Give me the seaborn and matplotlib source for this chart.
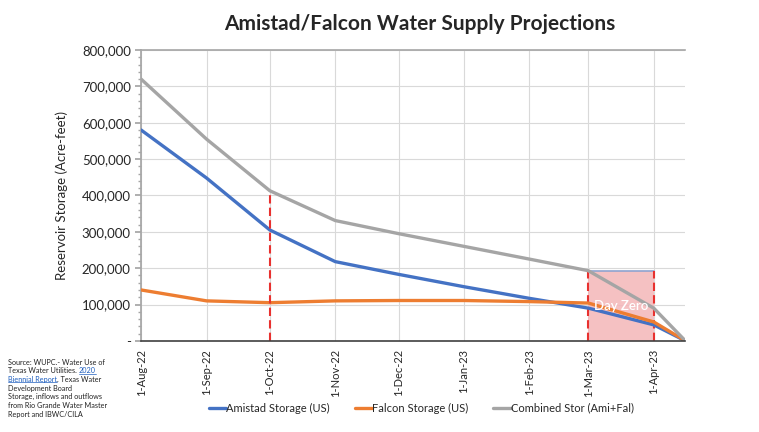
import matplotlib
matplotlib.use("Agg")
import matplotlib.pyplot as plt
import matplotlib.dates as mdates
import matplotlib.ticker as mticker
from matplotlib.lines import Line2D
import seaborn as sns
import pandas as pd

dates = ["2022-08-01", "2022-09-01", "2022-10-01", "2022-11-01", "2022-12-01",
         "2023-01-01", "2023-02-01", "2023-03-01", "2023-04-01", "2023-04-16"]
amistad = [580000, 448000, 305000, 218000, 183000, 149000, 117000, 90000, 44000, 0]
falcon = [140000, 110000, 105000, 110000, 111000, 111000, 108000, 104000, 52000, 0]
combined = [720000, 555000, 413000, 331000, 295000, 260000, 225000, 193000, 90000, 0]
series_names = ["Amistad Storage (US)", "Falcon Storage (US)", "Combined Stor (Ami+Fal)"]
colors = ["#4472C4", "#ED7D31", "#A5A5A5"]
tick_dates = ["2022-08-01", "2022-09-01", "2022-10-01", "2022-11-01", "2022-12-01",
              "2023-01-01", "2023-02-01", "2023-03-01", "2023-04-01"]
marker_date = "2022-10-01"
marker_top = 400000
dayzero_start, dayzero_end, dayzero_top = "2023-03-01", "2023-04-01", 193000

sns.set_theme(style="white")
plt.rcParams['font.family'] = ['Lato', 'DejaVu Sans']

df = pd.DataFrame({"date": pd.to_datetime(dates).tolist() * 3,
                   "value": amistad + falcon + combined,
                   "series": sum([[n] * len(dates) for n in series_names], [])})

fig = plt.figure(figsize=(7.59, 4.32), dpi=100)
ax = fig.add_axes([0.186, 0.211, 0.717, 0.673])

# Day Zero box
d0, d1 = mdates.date2num(pd.Timestamp(dayzero_start)), mdates.date2num(pd.Timestamp(dayzero_end))
ax.fill_between([d0, d1], 0, dayzero_top, color="#F4B6B8", alpha=0.85, zorder=1, linewidth=0)
ax.plot([d0, d1], [dayzero_top, dayzero_top], color="#8FA3D0", lw=1.2, zorder=1.5)
ax.plot([d0, d0], [0, dayzero_top], color="#E8312F", lw=1.5, ls=(0, (4, 2)), zorder=1.6)
ax.plot([d1, d1], [0, dayzero_top], color="#E8312F", lw=1.5, ls=(0, (4, 2)), zorder=1.6)

sns.lineplot(data=df, x="date", y="value", hue="series", palette=colors,
             hue_order=series_names, linewidth=2.4, ax=ax, zorder=3, legend=False)

dm = mdates.date2num(pd.Timestamp(marker_date))
ax.plot([dm, dm], [0, marker_top], color="#E8312F", lw=1.5, ls=(0, (4, 2)), zorder=4)

ax.text((d0 + d1) / 2, 95000, "Day Zero", color="white", fontsize=9.5,
        fontweight="semibold", ha="center", va="center", zorder=5)

ax.set_xlim(mdates.date2num(pd.Timestamp(dates[0])), mdates.date2num(pd.Timestamp(dates[-1])))
ax.set_ylim(0, 800000)
ax.set_xticks(pd.to_datetime(tick_dates))
ax.xaxis.set_major_formatter(mdates.DateFormatter("%-d-%b-%y"))
plt.setp(ax.get_xticklabels(), rotation=90, fontsize=8)
ax.yaxis.set_major_locator(mticker.MultipleLocator(100000))
ax.yaxis.set_minor_locator(mticker.MultipleLocator(20000))
ax.yaxis.set_major_formatter(mticker.FuncFormatter(lambda v, p: "-" if v == 0 else f"{int(v):,}"))
ax.tick_params(axis="y", labelsize=9.5, which="major", length=4, color="#A6A6A6", left=True)
ax.tick_params(axis="y", which="minor", length=2.5, color="#A6A6A6", left=True)
ax.tick_params(axis="x", length=0, pad=6)
ax.grid(True, which="major", color="#D9D9D9", lw=0.8)
ax.set_axisbelow(True)
ax.spines["right"].set_visible(False)
ax.spines["top"].set_color("#A6A6A6")
ax.spines["top"].set_linewidth(1.2)
ax.spines["left"].set_color("#A6A6A6")
ax.spines["bottom"].set_color("#404040")
ax.spines["bottom"].set_linewidth(1.2)
ax.spines["bottom"].set_zorder(6)
ax.set_xlabel("")
ax.set_ylabel("Reservoir Storage (Acre-feet)", fontsize=9.5, labelpad=10)

fig.text(0.553, 0.945, "Amistad/Falcon Water Supply Projections", fontsize=15,
         fontweight="bold", ha="center", va="center")

handles = [Line2D([0], [0], color=c, lw=2.4) for c in colors]
fig.legend(handles, series_names, loc="center", bbox_to_anchor=(0.555, 0.055), ncol=3,
           frameon=False, fontsize=8, handlelength=1.6, handletextpad=0.0, columnspacing=2.2)

# Source note with blue underlined link part
src_lines = [
    [("Source: WUPC.- Water Use of", "k")],
    [("Texas Water Utilities. ", "k"), ("2020", "link")],
    [("Biennial Report", "link"), (". Texas Water", "k")],
    [("Development Board", "k")],
    [("Storage, inflows and outflows", "k")],
    [("from Rio Grande Water Master", "k")],
    [("Report and IBWC/CILA", "k")],
]
renderer = fig.canvas.get_renderer()
y0 = 0.17
dy = 8.7 / 432
for i, parts in enumerate(src_lines):
    x = 0.011
    for txt, kind in parts:
        t = fig.text(x, y0 - i * dy, txt, fontsize=5.2, ha="left", va="top",
                     color="#1F5FBF" if kind == "link" else "#222222")
        bb = t.get_window_extent(renderer=renderer)
        if kind == "link":
            fig.add_artist(Line2D([bb.x0 / 759, bb.x1 / 759], [(bb.y0 + 0.5) / 432] * 2,
                                  color="#1F5FBF", lw=0.5, transform=fig.transFigure))
        x = bb.x1 / 759

fig.savefig("out.png", dpi=100)
